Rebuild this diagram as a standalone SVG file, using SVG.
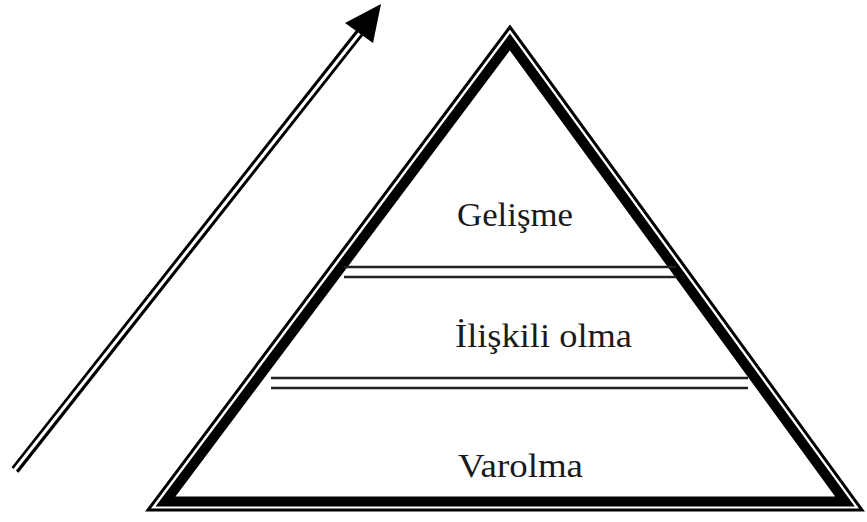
<svg xmlns="http://www.w3.org/2000/svg" width="867" height="522" viewBox="0 0 867 522">
  <style>
    .lbl { font-family: "Liberation Serif", "Times New Roman", serif; font-size: 34px; fill: #1a1a1a; }
    .div { stroke: #222; stroke-width: 2.4; fill: none; }
  </style>
  <rect width="867" height="522" fill="#ffffff"/>
  <g id="pyramid">
    <polygon points="510,27 148,510 862,510" fill="none" stroke="#000" stroke-width="3" stroke-linejoin="miter"/>
    <polygon points="509.9,42 165.5,501.5 845,501.5" fill="none" stroke="#000" stroke-width="10" stroke-linejoin="miter"/>
  </g>
  <g id="divider-upper">
    <line class="div" x1="344" y1="267" x2="676" y2="267"/>
    <line class="div" x1="344" y1="277" x2="676" y2="277"/>
  </g>
  <g id="divider-lower">
    <line class="div" x1="271" y1="378" x2="748" y2="378"/>
    <line class="div" x1="271" y1="388" x2="748" y2="388"/>
  </g>
  <g id="level-gelisme">
    <text class="lbl" x="457" y="226" textLength="116" lengthAdjust="spacingAndGlyphs">Gelişme</text>
  </g>
  <g id="level-iliskili">
    <text class="lbl" x="455" y="347" textLength="177" lengthAdjust="spacingAndGlyphs">İlişkili olma</text>
  </g>
  <g id="level-varolma">
    <text class="lbl" x="458" y="477" textLength="125" lengthAdjust="spacingAndGlyphs">Varolma</text>
  </g>
  <g id="connectors">
    <line x1="15" y1="470" x2="361" y2="31" stroke="#000" stroke-width="9"/>
    <line x1="13" y1="472" x2="362" y2="30" stroke="#fff" stroke-width="3"/>
    <polygon points="381,4 345,23 373,43" fill="#000"/>
  </g>
</svg>
